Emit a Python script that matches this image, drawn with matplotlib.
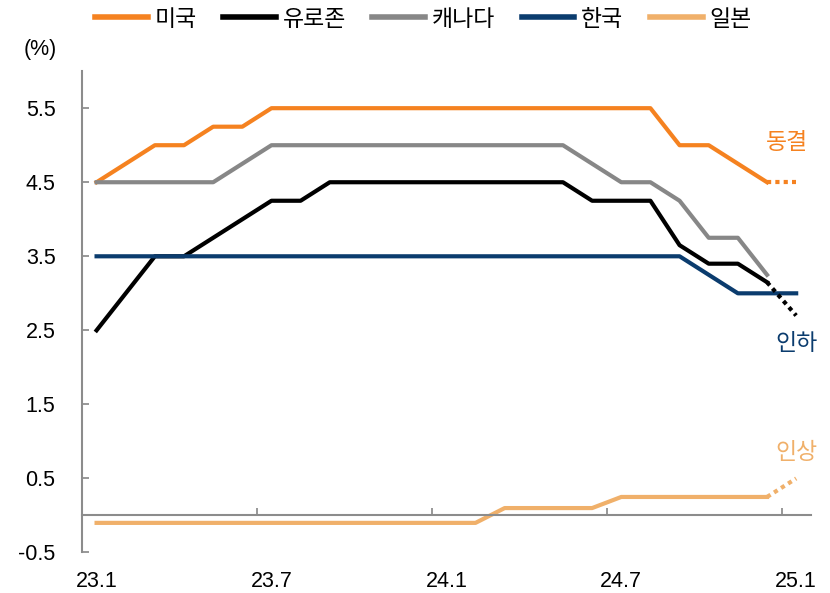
import numpy as np
import matplotlib.pyplot as plt

plt.rcParams['font.family'] = ['Liberation Sans', 'Noto Sans CJK KR', 'DejaVu Sans']

# monthly policy rates, 23.1 ~ 25.1 (last month = outlook, drawn dotted)
months = ['23.1', '23.2', '23.3', '23.4', '23.5', '23.6', '23.7', '23.8', '23.9',
          '23.10', '23.11', '23.12', '24.1', '24.2', '24.3', '24.4', '24.5', '24.6',
          '24.7', '24.8', '24.9', '24.10', '24.11', '24.12', '25.1']
us = [4.5, 4.75, 5.0, 5.0, 5.25, 5.25, 5.5, 5.5, 5.5, 5.5, 5.5, 5.5, 5.5, 5.5,
      5.5, 5.5, 5.5, 5.5, 5.5, 5.5, 5.0, 5.0, 4.75, 4.5, 4.5]
euro = [2.5, 3.0, 3.5, 3.5, 3.75, 4.0, 4.25, 4.25, 4.5, 4.5, 4.5, 4.5, 4.5, 4.5,
        4.5, 4.5, 4.5, 4.25, 4.25, 4.25, 3.65, 3.4, 3.4, 3.15, 2.7]
canada = [4.5, 4.5, 4.5, 4.5, 4.5, 4.75, 5.0, 5.0, 5.0, 5.0, 5.0, 5.0, 5.0, 5.0,
          5.0, 5.0, 5.0, 4.75, 4.5, 4.5, 4.25, 3.75, 3.75, 3.25, np.nan]
korea = [3.5, 3.5, 3.5, 3.5, 3.5, 3.5, 3.5, 3.5, 3.5, 3.5, 3.5, 3.5, 3.5, 3.5,
         3.5, 3.5, 3.5, 3.5, 3.5, 3.5, 3.5, 3.25, 3.0, 3.0, 3.0]
japan = [-0.1, -0.1, -0.1, -0.1, -0.1, -0.1, -0.1, -0.1, -0.1, -0.1, -0.1, -0.1,
         -0.1, -0.1, 0.1, 0.1, 0.1, 0.1, 0.25, 0.25, 0.25, 0.25, 0.25, 0.25, 0.5]

c_us = '#F58220'
c_eu = '#000000'
c_ca = '#878787'
c_kr = '#0B3C6E'
c_jp = '#F0B06A'

x = np.arange(len(months))
n_act = len(months) - 1  # last point is the outlook

fig = plt.figure(figsize=(8.3, 5.93), dpi=100)
ax = fig.add_axes([0.0988, 0.0683, 0.878, 0.8117])

lw = 3
ax.plot(x[:n_act], us[:n_act], color=c_us, lw=lw, label='미국')
ax.plot(x[:n_act], euro[:n_act], color=c_eu, lw=lw, label='유로존')
ax.plot(x, canada, color=c_ca, lw=lw, label='캐나다')
ax.plot(x, korea, color=c_kr, lw=lw, label='한국')
ax.plot(x[:n_act], japan[:n_act], color=c_jp, lw=lw, label='일본')

# outlook segments
dot = (0, (1, 1))
ax.plot(x[n_act - 1:], us[n_act - 1:], color=c_us, lw=lw, ls=dot)
ax.plot(x[n_act - 1:], euro[n_act - 1:], color=c_eu, lw=lw, ls=dot)
ax.plot(x[n_act - 1:], japan[n_act - 1:], color=c_jp, lw=lw, ls=dot)

ax.text(23.7, 5.03, '동결', color=c_us, fontsize=16.5, ha='center', va='center')
ax.text(24.0, 2.32, '인하', color=c_kr, fontsize=16.5, ha='center', va='center')
ax.text(24.0, 0.85, '인상', color=c_jp, fontsize=16.5, ha='center', va='center')

ax.set_xlim(-0.5, len(months) - 0.5)
ax.set_ylim(-0.5, 6.0)

ax.set_yticks(np.arange(-0.5, 6.0, 1.0))
ax.set_yticklabels(['-0.5', '0.5', '1.5', '2.5', '3.5', '4.5', '5.5'])
ax.tick_params(axis='y', direction='in', length=5, width=1.2, color='#868686',
               labelsize=15.5, pad=19)

# tick marks on month boundaries, labels on month centres
lab_idx = np.arange(0, len(months), 6)
ax.set_xticks(lab_idx - 0.5)
ax.set_xticklabels([])
ax.set_xticks(lab_idx, minor=True)
ax.set_xticklabels([months[i] for i in lab_idx], minor=True)
ax.tick_params(axis='x', which='major', direction='in', length=5, width=1.2,
               color='#868686')
ax.tick_params(axis='x', which='minor', length=0, labelsize=15.5, pad=40)

ax.spines['bottom'].set_position(('data', 0))
for s in ['top', 'right']:
    ax.spines[s].set_visible(False)
for s in ['left', 'bottom']:
    ax.spines[s].set_color('#8C8C8C')
    ax.spines[s].set_linewidth(1.5)

fig.text(40 / 830, 1 - 50 / 593, '(%)', fontsize=15.5, ha='center', va='center')

leg = fig.legend(loc='center', bbox_to_anchor=(0.51, 1 - 19 / 593), ncol=5,
                 frameon=False, fontsize=16.5, handlelength=2.3, handletextpad=0.3,
                 columnspacing=1.15)
for h in leg.get_lines():
    h.set_linewidth(4)

fig.savefig('out.png', dpi=100)
